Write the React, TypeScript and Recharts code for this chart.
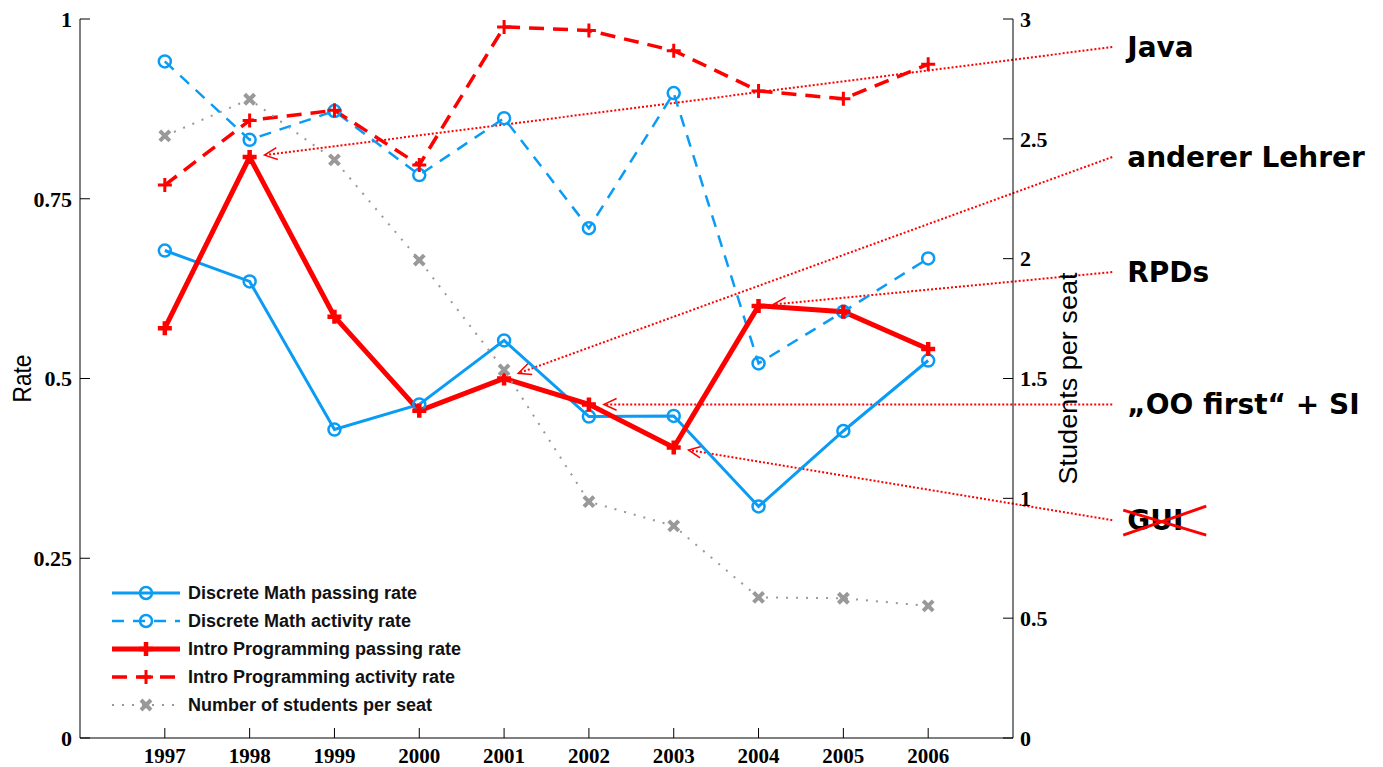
import {Legend, Line, LineChart, ReferenceLine, XAxis, YAxis} from "recharts";

// years on the x axis
const years = [1997, 1998, 1999, 2000, 2001, 2002, 2003, 2004, 2005, 2006];

// rates (left axis, 0..1)
const discreteMathPassing = [0.678, 0.635, 0.429, 0.464, 0.553, 0.447, 0.448, 0.322, 0.427, 0.525];
const discreteMathActivity = [0.941, 0.832, 0.872, 0.783, 0.862, 0.709, 0.897, 0.521, 0.593, 0.667];
const introProgPassing = [0.570, 0.808, 0.586, 0.455, 0.500, 0.464, 0.404, 0.601, 0.593, 0.541];
const introProgActivity = [0.769, 0.859, 0.873, 0.797, 0.989, 0.984, 0.956, 0.900, 0.889, 0.937];

// students per seat (right axis, 0..3)
const studentsPerSeat = [2.512, 2.665, 2.412, 1.994, 1.536, 0.986, 0.885, 0.587, 0.583, 0.551];

const rateTicks = [0, 0.25, 0.5, 0.75, 1];
const seatTicks = [0, 0.5, 1, 1.5, 2, 2.5, 3];

// annotations: text, year of the pointed intro-programming point, rate at the label end
const noteTexts = ["Java", "anderer Lehrer", "RPDs", "„OO first“ + SI", "GUI"];
const noteYears = [1998, 2001, 2004, 2002, 2003];
const noteRates = [0.961, 0.808, 0.648, 0.464, 0.303];
const noteX = 2008.17;

const BLUE = "#0a9cf5";
const RED = "#ff0000";
const GRAY = "#999999";

const data = years.map((year, i) => ({
  year,
  dmPass: discreteMathPassing[i],
  dmAct: discreteMathActivity[i],
  ipPass: introProgPassing[i],
  ipAct: introProgActivity[i],
  seats: studentsPerSeat[i],
}));

type MarkerKind = "circle" | "plus" | "cross";

const series = [
  {key: "dmPass", name: "Discrete Math passing rate", color: BLUE, width: 3, dash: undefined, marker: "circle" as MarkerKind, axis: "left", msw: 2.5},
  {key: "dmAct", name: "Discrete Math activity rate", color: BLUE, width: 2.5, dash: "12 9", marker: "circle" as MarkerKind, axis: "left", msw: 2.5},
  {key: "ipPass", name: "Intro Programming passing rate", color: RED, width: 5, dash: undefined, marker: "plus" as MarkerKind, axis: "left", msw: 4.5},
  {key: "ipAct", name: "Intro Programming activity rate", color: RED, width: 3.5, dash: "15 9", marker: "plus" as MarkerKind, axis: "left", msw: 3},
  {key: "seats", name: "Number of students per seat", color: GRAY, width: 2, dash: "2 8", marker: "cross" as MarkerKind, axis: "right", msw: 4},
];

function Marker({kind, cx, cy, color, sw}: {kind: MarkerKind; cx: number; cy: number; color: string; sw: number}) {
  if (kind === "circle") {
    return <circle cx={cx} cy={cy} r={6} fill="none" stroke={color} strokeWidth={sw}/>;
  }
  if (kind === "plus") {
    return <path d={`M${cx - 7},${cy}H${cx + 7}M${cx},${cy - 7}V${cy + 7}`} stroke={color} strokeWidth={sw}/>;
  }
  return <path d={`M${cx - 5},${cy - 5}L${cx + 5},${cy + 5}M${cx - 5},${cy + 5}L${cx + 5},${cy - 5}`} stroke={color} strokeWidth={sw}/>;
}

// dotted red arrow from the label to the point, plus the label itself
function noteShape(text: string) {
  return (props: any) => {
    const {x1, y1, x2, y2} = props;
    const dx = x1 - x2;
    const dy = y1 - y2;
    const len = Math.sqrt(dx * dx + dy * dy);
    const ux = dx / len;
    const uy = dy / len;
    const tx = x2 + ux * 15;
    const ty = y2 + uy * 15;
    const a = (25 * Math.PI) / 180;
    const rot = (ang: number) => [ux * Math.cos(ang) - uy * Math.sin(ang), ux * Math.sin(ang) + uy * Math.cos(ang)];
    const [ax, ay] = rot(a);
    const [bx, by] = rot(-a);
    const textX = x1 + 15;
    return (
      <g>
        <line x1={x1} y1={y1} x2={tx} y2={ty} stroke={RED} strokeWidth={2} strokeDasharray="2 2"/>
        <path d={`M${tx + ax * 14},${ty + ay * 14}L${tx},${ty}L${tx + bx * 14},${ty + by * 14}`} fill="none" stroke={RED} strokeWidth={1.5}/>
        <text x={textX} y={y1 + 10} fontFamily="DejaVu Sans" fontWeight="bold" fontSize={28} fill="#000">{text}</text>
        {text === "GUI" && (
          <path d={`M${textX - 4},${y1 - 10}L${textX + 79},${y1 + 15}M${textX - 4},${y1 + 15}L${textX + 79},${y1 - 14}`} stroke={RED} strokeWidth={3}/>
        )}
      </g>
    );
  };
}

function LegendBox() {
  return (
    <svg width={380} height={140}>
      {series.map((s, i) => {
        const y = 15 + i * 28;
        return (
          <g key={s.key}>
            <line x1={7} y1={y} x2={75} y2={y} stroke={s.color} strokeWidth={s.width} strokeDasharray={s.dash}/>
            <Marker kind={s.marker} cx={41} cy={y} color={s.color} sw={s.msw}/>
            <text x={83} y={y + 6} fontFamily="Liberation Sans" fontWeight="bold" fontSize={18} fill="#111">{s.name}</text>
          </g>
        );
      })}
    </svg>
  );
}

const tickFontY = {fontFamily: "Liberation Serif", fontWeight: "bold", fontSize: 22, fill: "#000"};

export default function App() {
  return (
    <div style={{position: "absolute", left: 0, top: 0, background: "#fff"}}>
      <LineChart width={1383} height={767} data={data} margin={{top: 19, right: 300, bottom: 0, left: 0}}>
        <XAxis
          dataKey="year"
          type="number"
          domain={[1996, 2007]}
          ticks={years}
          allowDataOverflow
          height={29}
          stroke="#000"
          tickSize={-10}
          tickMargin={20}
          tick={{fontFamily: "Liberation Serif", fontWeight: "bold", fontSize: 21, fill: "#000"}}
        />
        <XAxis
          xAxisId="top"
          orientation="top"
          dataKey="year"
          type="number"
          domain={[1996, 2007]}
          ticks={years}
          height={0}
          stroke="#000"
          tickSize={-10}
          tick={false}
        />
        <YAxis
          yAxisId="left"
          domain={[0, 1]}
          ticks={rateTicks}
          width={80}
          stroke="#000"
          tickSize={-10}
          tickMargin={18}
          tick={tickFontY}
          label={{
            content: ({viewBox}: any) => (
              <text
                x={viewBox.x + 22}
                y={viewBox.y + viewBox.height / 2}
                transform={`rotate(-90 ${viewBox.x + 22} ${viewBox.y + viewBox.height / 2})`}
                textAnchor="middle"
                dominantBaseline="central"
                fontFamily="Liberation Sans"
                fontSize={26}
                textLength={48}
                lengthAdjust="spacingAndGlyphs"
                fill="#000"
              >Rate</text>
            ),
          }}
        />
        <YAxis
          yAxisId="right"
          orientation="right"
          domain={[0, 3]}
          ticks={seatTicks}
          width={70}
          stroke="#000"
          tickSize={-10}
          tickMargin={17}
          tick={tickFontY}
          label={{
            content: ({viewBox}: any) => (
              <text
                x={viewBox.x + 55}
                y={viewBox.y + viewBox.height / 2}
                transform={`rotate(-90 ${viewBox.x + 55} ${viewBox.y + viewBox.height / 2})`}
                textAnchor="middle"
                dominantBaseline="central"
                fontFamily="Liberation Sans"
                fontSize={26}
                textLength={212}
                lengthAdjust="spacingAndGlyphs"
                fill="#000"
              >Students per seat</text>
            ),
          }}
        />
        {noteTexts.map((t, i) => (
          <ReferenceLine
            key={t}
            yAxisId="left"
            ifOverflow="visible"
            segment={[
              {x: noteX, y: noteRates[i]},
              {x: noteYears[i], y: introProgPassing[years.indexOf(noteYears[i])]},
            ]}
            shape={noteShape(t)}
          />
        ))}
        {series.map((s) => (
          <Line
            key={s.key}
            yAxisId={s.axis}
            dataKey={s.key}
            name={s.name}
            type="linear"
            stroke={s.color}
            strokeWidth={s.width}
            strokeDasharray={s.dash}
            isAnimationActive={false}
            activeDot={false}
            dot={(p: any) => (
              <Marker key={`${s.key}-${p.index}`} kind={s.marker} cx={p.cx} cy={p.cy} color={s.color} sw={s.msw}/>
            )}
          />
        ))}
        <Legend
          layout="vertical"
          align="center"
          verticalAlign="middle"
          wrapperStyle={{left: 105, top: 578, width: 380, height: 140}}
          content={() => <LegendBox/>}
        />
      </LineChart>
    </div>
  );
}
